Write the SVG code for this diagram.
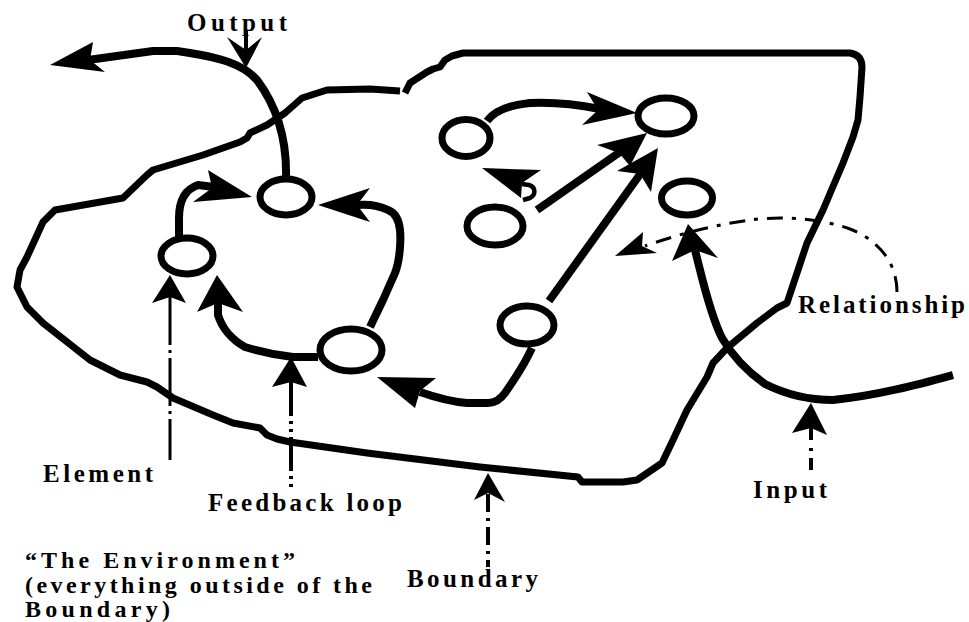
<svg xmlns="http://www.w3.org/2000/svg" width="969" height="622" viewBox="0 0 969 622">
  <style>
    .edge { fill: none; stroke: #000; stroke-width: 8; stroke-linejoin: round; }
    .bound { fill: none; stroke: #000; stroke-width: 7; stroke-linejoin: round; }
    .node { fill: #fff; stroke: #000; stroke-width: 7; }
    .head { fill: #000; stroke: none; }
    .ptr { fill: none; stroke: #000; stroke-width: 3.5; }
    .lbl { font-family: "Liberation Serif", "Times New Roman", serif; font-weight: bold; font-size: 25px; fill: #000; }
    .env { font-size: 24px; }
  </style>

  <!-- system boundary -->
  <g id="boundary">
    <path class="bound" d="M405,93 L410,83 L427,72 L433,69 L440,67 L445,60 L452,56 L463,53 L850,53 Q862,55 862,67 L860,97 L858,120 L853,137 L843,163 L823,210 L807,243 L787,303 L777,308 L757,323 L727,348 L713,363 L707,377 L687,410 L673,440 L662,463 L637,480 L623,482 L582,482 L578,477 L480,467 L367,453 L290,442 L277,439 L267,435 L260,428 L233,423 L213,415 L173,398 L157,387 L147,382 L120,375 L90,360 L43,323 L27,307 L17,287 L20,270 L27,257 L43,222 L55,210 L123,198 L147,175 L153,170 L203,155 L240,142 L247,138 L250,133 L267,125 L285,113 L302,98 L327,90 L370,89 L400,91"/>
  </g>

  <!-- connectors between elements -->
  <g id="connectors">
    <!-- output leaving the system -->
    <path class="edge" d="M286,178 C287,140 278,108 257,80 C243,64 220,57 177,51 L153,51 L88,60"/>
    <polygon class="head" points="50,65 93,42 90,60 105,72"/>

    <!-- B to A -->
    <path class="edge" d="M179,236 L179,218 C179,200 186,189 198,185 L214,187"/>
    <polygon class="head" points="252,197 208,170 212,188 193,202"/>

    <!-- C to A -->
    <path class="edge" d="M370,327 L383,300 L395,273 C400,260 401,240 400,230 C399,220 396,213 388,210 C380,206 368,204 357,205"/>
    <polygon class="head" points="318,205 370,188 357,205 370,222"/>

    <!-- C to B -->
    <path class="edge" d="M318,357 L293,357 C275,355 258,351 245,347 C232,340 222,328 218,315 L218,303"/>
    <polygon class="head" points="217,275 197,312 218,303 243,312"/>

    <!-- D to the loop below -->
    <path class="edge" d="M532,348 L528,356 C522,368 514,380 505,393 C500,400 495,403 488,403 L467,403 C455,402 440,399 420,392"/>
    <polygon class="head" points="377,377 436,378 420,391 415,408"/>

    <!-- D to F -->
    <path class="edge" d="M549,301 L641,173"/>
    <polygon class="head" points="658,148 651,192 640,174 617,171"/>

    <!-- G to F -->
    <path class="edge" d="M537,210 L620,152"/>
    <polygon class="head" points="647,133 630,166 619,153 597,145"/>

    <!-- E to F -->
    <path class="edge" d="M487,121 C495,110 510,105 530,103 C550,102 575,104 600,109"/>
    <polygon class="head" points="637,113 587,92 598,110 582,125"/>

    <!-- short arrow above G -->
    <polygon class="head" points="482,168 541,170 522,183 521,198"/>
    <path class="edge" style="stroke-width:4.5" d="M522,184 L529,185 C536,187 536,195 530,198 L523,200"/>

    <!-- input entering the system -->
    <path class="edge" d="M953,375 C920,384 880,395 833,400 C805,400 785,394 765,384 C745,370 732,355 722,338 C712,318 705,290 700,270 L695,250"/>
    <polygon class="head" points="688,224 718,258 695,250 672,261"/>
  </g>

  <!-- element nodes -->
  <g id="node-a"><ellipse class="node" cx="286" cy="197" rx="26" ry="18"/></g>
  <g id="node-b"><ellipse class="node" cx="187" cy="256" rx="26" ry="18"/></g>
  <g id="node-c"><ellipse class="node" cx="351" cy="350" rx="31" ry="21"/></g>
  <g id="node-d"><ellipse class="node" cx="527" cy="325" rx="27" ry="19"/></g>
  <g id="node-e"><ellipse class="node" cx="466" cy="138" rx="24" ry="18.5"/></g>
  <g id="node-f"><ellipse class="node" cx="666" cy="116" rx="28" ry="18"/></g>
  <g id="node-g"><ellipse class="node" cx="495" cy="226" rx="28" ry="19"/></g>
  <g id="node-h"><ellipse class="node" cx="687" cy="198" rx="25.5" ry="17"/></g>

  <!-- label pointers -->
  <g id="pointers">
    <!-- Output -->
    <path class="ptr" style="stroke-width:4" d="M246,30 V52"/>
    <polygon class="head" points="246,68 227,37 246,50 262,37"/>
    <!-- Element -->
    <path class="ptr" style="stroke-width:3" stroke-dasharray="48 5 3 5" d="M170,297 V460"/>
    <polygon class="head" points="170,275 152,303 170,297 186,303"/>
    <!-- Feedback loop -->
    <path class="ptr" style="stroke-width:4" stroke-dasharray="34 5 3 5 3 5" d="M291,382 V492"/>
    <polygon class="head" points="291,357 272,387 291,382 307,387"/>
    <!-- Boundary -->
    <path class="ptr" style="stroke-width:4" stroke-dasharray="18 6 3 6" d="M488,494 V567"/>
    <polygon class="head" points="488,473 474,500 488,493 505,502"/>
    <!-- Input -->
    <path class="ptr" style="stroke-width:4" stroke-dasharray="12 8 3 7" d="M811,428 V473"/>
    <polygon class="head" points="811,403 792,433 811,428 827,435"/>
    <!-- Relationship -->
    <path class="ptr" style="stroke-width:3" stroke-dasharray="16 9 4 9" d="M897,292 C897,262 878,240 850,229 C820,218 780,216 750,220 C720,224 685,232 645,246"/>
    <polygon class="head" points="615,256 643,232 642,246 657,253"/>
  </g>

  <!-- labels -->
  <g id="labels">
    <text class="lbl" x="187" y="31" textLength="100" lengthAdjust="spacing">Output</text>
    <text class="lbl" x="43" y="482" textLength="110" lengthAdjust="spacing">Element</text>
    <text class="lbl" x="208" y="511" textLength="194" lengthAdjust="spacing">Feedback loop</text>
    <text class="lbl" x="798" y="313" textLength="167" lengthAdjust="spacing">Relationship</text>
    <text class="lbl" x="753" y="498" textLength="74" lengthAdjust="spacing">Input</text>
    <text class="lbl" x="407" y="587" textLength="131" lengthAdjust="spacing">Boundary</text>
    <text class="lbl env" x="25" y="568" textLength="270" lengthAdjust="spacing">“The Environment”</text>
    <text class="lbl env" x="25" y="593" textLength="347" lengthAdjust="spacing">(everything outside of the</text>
    <text class="lbl env" x="25" y="617" textLength="145" lengthAdjust="spacing">Boundary)</text>
  </g>
</svg>
